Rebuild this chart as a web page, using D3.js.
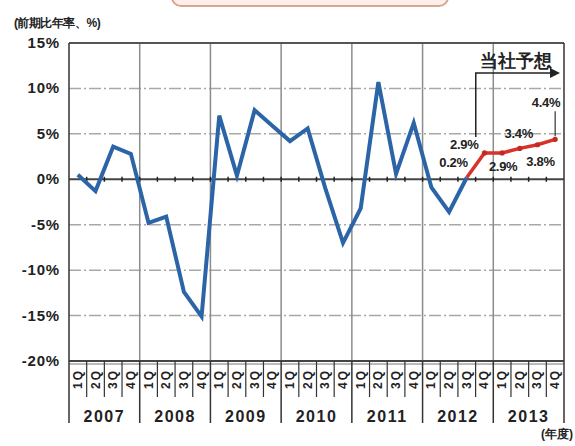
<!DOCTYPE html>
<html><head><meta charset="utf-8">
<script src="https://cdn.jsdelivr.net/npm/d3@7"></script>
<style>
html,body{margin:0;padding:0;background:#fff;}
svg{display:block;}
text{font-family:"Liberation Sans",Arial,sans-serif;font-weight:bold;fill:#222;}
</style></head>
<body>
<script>
const years = ["2007","2008","2009","2010","2011","2012","2013"];
const quarters = ["1Q","2Q","3Q","4Q"];
const yTicks = [15,10,5,0,-5,-10,-15,-20];
// actual growth (annualised q/q, %), 2007 1Q .. 2012 3Q
const actual = [0.5,-1.3,3.6,2.8, -4.8,-4.1,-12.4,-15.1, 7.0,0.4,7.6,5.9, 4.2,5.6,-1.0,-7.0, -3.2,10.7,0.6,6.2, -0.9,-3.6,0.2];
// company forecast, 2012 3Q .. 2013 4Q
const forecastStart = 22;
const forecast = [0.2,2.9,2.9,3.4,3.8,4.4];
const yTitle = "(前期比年率、%)";
const xTitle = "(年度)";
const forecastTitle = "当社予想";

const W=575,H=446;
const svg=d3.select("body").append("svg").attr("width",W).attr("height",H);
const nQ = years.length*quarters.length;
const x=d3.scaleLinear().domain([0,nQ]).range([69,564]);
const y=d3.scaleLinear().domain([-20,15]).range([361,43]);
const cx=i=>x(i+0.5);

// top cut-off box
svg.append("rect").attr("x",172).attr("y",-20).attr("width",276).attr("height",26).attr("rx",9)
  .attr("fill","#fcefea").attr("stroke","#d9a592").attr("stroke-width",2);

// horizontal dashed grid
svg.append("g").selectAll("line").data(yTicks.filter(v=>v!==0&&v!==15&&v!==-20)).join("line")
  .attr("x1",x(0)).attr("x2",x(nQ)).attr("y1",d=>y(d)).attr("y2",d=>y(d))
  .attr("stroke","#a8a8a8").attr("stroke-width",1.5).attr("stroke-dasharray","12,3,2,3");

// vertical year lines
svg.append("g").selectAll("line").data(d3.range(1,years.length)).join("line")
  .attr("x1",d=>x(d*4)).attr("x2",d=>x(d*4)).attr("y1",y(15)).attr("y2",y(-20))
  .attr("stroke","#8c8c8c").attr("stroke-width",1.5);

// zero line
svg.append("line").attr("x1",x(0)).attr("x2",x(nQ)).attr("y1",y(0)).attr("y2",y(0))
  .attr("stroke","#444").attr("stroke-width",2);
svg.append("g").selectAll("line").data(d3.range(1,nQ)).join("line")
  .attr("x1",d=>x(d)).attr("x2",d=>x(d)).attr("y1",y(0)-2.5).attr("y2",y(0)+2.5)
  .attr("stroke","#222").attr("stroke-width",1.5);

// frame
svg.append("line").attr("x1",x(0)).attr("x2",x(nQ)).attr("y1",y(15)).attr("y2",y(15)).attr("stroke","#555").attr("stroke-width",2);
svg.append("line").attr("x1",x(0)).attr("x2",x(nQ)).attr("y1",y(-20)).attr("y2",y(-20)).attr("stroke","#444").attr("stroke-width",2);
svg.append("line").attr("x1",x(0)).attr("x2",x(nQ)).attr("y1",y(-20)+3).attr("y2",y(-20)+3).attr("stroke","#777").attr("stroke-width",1);
svg.append("line").attr("x1",x(0)).attr("x2",x(0)).attr("y1",y(15)).attr("y2",423).attr("stroke","#333").attr("stroke-width",1.5);
svg.append("line").attr("x1",x(nQ)).attr("x2",x(nQ)).attr("y1",y(15)).attr("y2",423).attr("stroke","#333").attr("stroke-width",1.5);

// quarter separators and year separators under axis
svg.append("g").selectAll("line").data(d3.range(1,nQ).filter(d=>d%4!==0)).join("line")
  .attr("x1",d=>x(d)).attr("x2",d=>x(d)).attr("y1",y(-20)).attr("y2",397)
  .attr("stroke","#333").attr("stroke-width",1.2);
svg.append("g").selectAll("line").data(d3.range(1,years.length)).join("line")
  .attr("x1",d=>x(d*4)).attr("x2",d=>x(d*4)).attr("y1",y(-20)).attr("y2",423)
  .attr("stroke","#333").attr("stroke-width",1.5);

// quarter labels (rotated)
svg.append("g").selectAll("text").data(d3.range(nQ)).join("text")
  .attr("transform",d=>`translate(${cx(d)+4},379) rotate(-90)`)
  .attr("text-anchor","middle").attr("font-size",12).attr("letter-spacing",2)
  .text(d=>quarters[d%4]);
// year labels
svg.append("g").selectAll("text").data(years).join("text")
  .attr("x",(d,i)=>x(i*4+2)).attr("y",422).attr("text-anchor","middle")
  .attr("font-size",16).attr("letter-spacing",1.5).text(d=>d);

// y tick labels
svg.append("g").selectAll("text").data(yTicks).join("text")
  .attr("x",60).attr("y",d=>y(d)+5).attr("text-anchor","end")
  .attr("font-size",15).attr("letter-spacing",0.8).text(d=>d+"%");

// titles
svg.append("text").attr("x",14).attr("y",27).attr("font-size",12).attr("letter-spacing",-0.5).text(yTitle);
svg.append("text").attr("x",573).attr("y",438).attr("text-anchor","end").attr("font-size",12).text(xTitle);

// lines
const line=d3.line().x(d=>cx(d.i)).y(d=>y(d.v));
svg.append("path").datum(actual.map((v,i)=>({i,v}))).attr("d",line)
  .attr("fill","none").attr("stroke","#2b65a7").attr("stroke-width",4).attr("stroke-linejoin","miter");
const fData=forecast.map((v,k)=>({i:forecastStart+k,v}));
svg.append("path").datum(fData).attr("d",line)
  .attr("fill","none").attr("stroke","#d8332b").attr("stroke-width",3.5);
svg.append("g").selectAll("circle").data(fData.slice(1)).join("circle")
  .attr("cx",d=>cx(d.i)).attr("cy",d=>y(d.v)).attr("r",2.6).attr("fill","#c42a22");

// forecast bracket arrow
const ax=cx(forecastStart)+9, ay=73;
svg.append("path").attr("d",`M${ax},${y(forecast[1])-16}V${ay}H${x(nQ)-12}`)
  .attr("fill","none").attr("stroke","#222").attr("stroke-width",1.5);
svg.append("path").attr("d",`M${x(nQ)-4},${ay}l-10,-5v10z`).attr("fill","#222");
svg.append("text").attr("x",(ax+x(nQ)-8)/2).attr("y",67).attr("text-anchor","middle")
  .attr("font-size",18).attr("font-weight","bold").attr("font-family","'Noto Sans CJK JP',sans-serif").text(forecastTitle);

// value labels
const fmt=v=>d3.format(".1f")(v)+"%";
const place=[
  {dx:1,dy:-10,a:"end"},
  {dx:-6,dy:-4,a:"end"},
  {dx:1,dy:18,a:"middle"},
  {dx:-1,dy:-10,a:"middle"},
  {dx:3,dy:21,a:"middle"},
  {dx:5,dy:-32,a:"end"}
];
svg.append("g").selectAll("text").data(fData).join("text")
  .attr("x",(d,k)=>cx(d.i)+place[k].dx).attr("y",(d,k)=>y(d.v)+place[k].dy)
  .attr("text-anchor",(d,k)=>place[k].a).attr("font-size",13).attr("letter-spacing",-0.3)
  .attr("fill","#333").text(d=>fmt(d.v));
const last=fData[fData.length-1];
svg.append("line").attr("x1",cx(last.i)).attr("x2",cx(last.i)).attr("y1",y(last.v)-28).attr("y2",y(last.v)-3)
  .attr("stroke","#333").attr("stroke-width",1.2);
</script>
</body></html>
